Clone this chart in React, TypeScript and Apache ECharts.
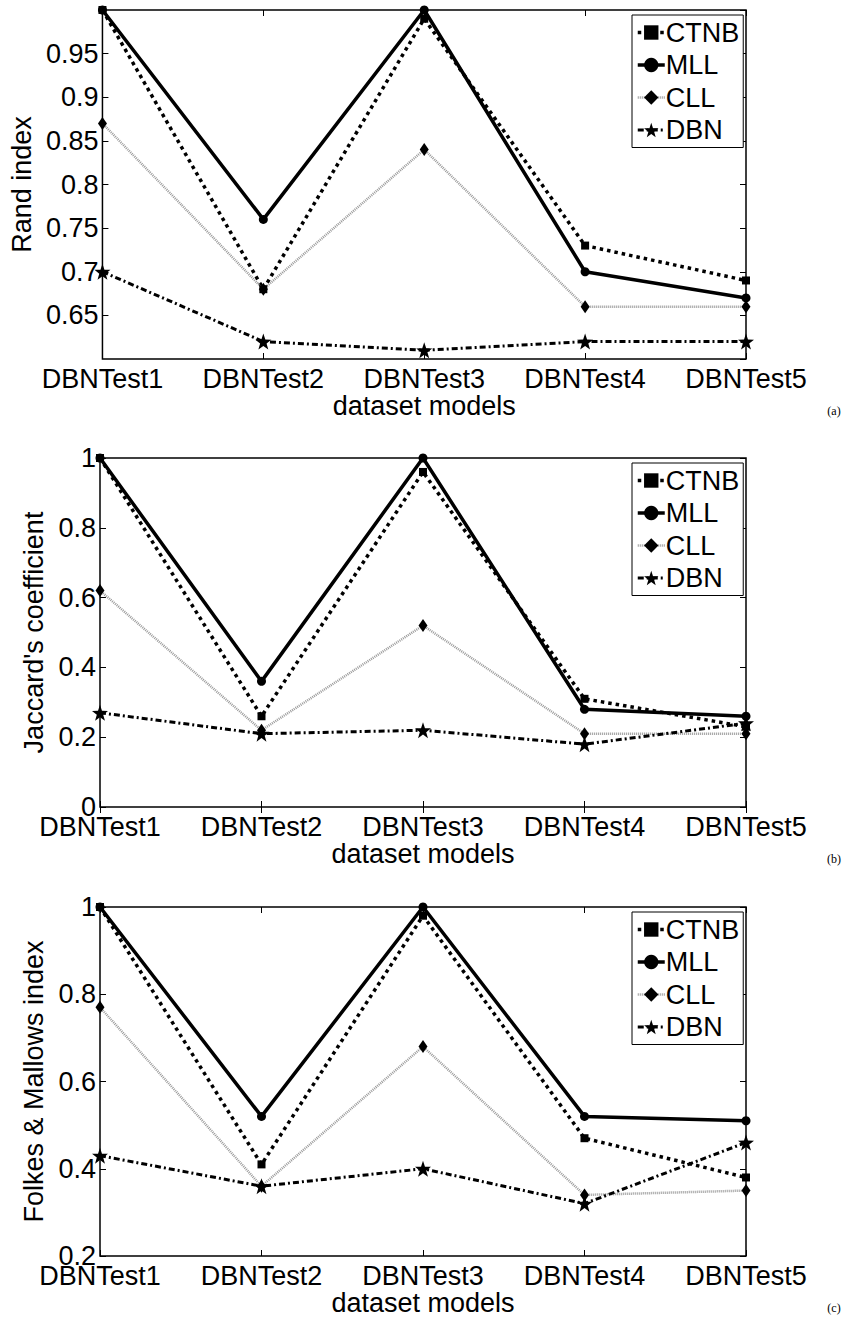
import React, { useEffect, useRef } from "react";
import * as echarts from "echarts";

const categories = ["DBNTest1", "DBNTest2", "DBNTest3", "DBNTest4", "DBNTest5"];
const seriesNames = ["CTNB", "MLL", "CLL", "DBN"];

const randCTNB = [1.0, 0.68, 0.99, 0.73, 0.69];
const randMLL = [1.0, 0.76, 1.0, 0.7, 0.67];
const randCLL = [0.87, 0.68, 0.84, 0.66, 0.66];
const randDBN = [0.7, 0.62, 0.61, 0.62, 0.62];

const jacCTNB = [1.0, 0.26, 0.96, 0.31, 0.23];
const jacMLL = [1.0, 0.36, 1.0, 0.28, 0.26];
const jacCLL = [0.62, 0.22, 0.52, 0.21, 0.21];
const jacDBN = [0.27, 0.21, 0.22, 0.18, 0.24];

const fmCTNB = [1.0, 0.41, 0.98, 0.47, 0.38];
const fmMLL = [1.0, 0.52, 1.0, 0.52, 0.51];
const fmCLL = [0.77, 0.36, 0.68, 0.34, 0.35];
const fmDBN = [0.43, 0.36, 0.4, 0.32, 0.46];

const panelData = [
  [randCTNB, randMLL, randCLL, randDBN],
  [jacCTNB, jacMLL, jacCLL, jacDBN],
  [fmCTNB, fmMLL, fmCLL, fmDBN],
];
const yTitles = ["Rand index", "Jaccard's coefficient", "Folkes & Mallows index"];
const xTitle = "dataset models";
const panelLabels = ["(a)", "(b)", "(c)"];
const yMin = [0.6, 0, 0.2];
const yMax = [1.0, 1.0, 1.0];
const yStep = [0.05, 0.2, 0.2];

const STAR =
  "path://M0,-10L2.35,-3.24L9.51,-3.09L3.8,1.24L5.88,8.09L0,4L-5.88,8.09L-3.8,1.24L-9.51,-3.09L-2.35,-3.24Z";

const FONT = "Liberation Sans, Arial, Helvetica, sans-serif";
const FS = 27;

const styles: Record<string, any> = {
  CTNB: { symbol: "rect", symbolSize: 8, lineStyle: { color: "#000", width: 3.5, type: [3.5, 4] } },
  MLL: { symbol: "circle", symbolSize: 9, lineStyle: { color: "#000", width: 3.5, type: "solid" } },
  CLL: { symbol: "diamond", symbolSize: [9, 13], lineStyle: { color: "#999", width: 2.5, type: [1, 1] } },
  DBN: { symbol: STAR, symbolSize: 16, lineStyle: { color: "#000", width: 3, type: [6, 3, 2, 3] } },
};

const TOPS = [10, 458, 907];
const PH = 349;
const LEFT = 100;
const RIGHT = 101;
const NAMEGAP = [59, 40, 40];

export default function App() {
  const ref = useRef<HTMLDivElement>(null);
  useEffect(() => {
    document.body.style.margin = "0";
    const chart = echarts.init(ref.current!, null, { renderer: "svg" });
    const grid: any[] = [];
    const xAxis: any[] = [];
    const yAxis: any[] = [];
    const series: any[] = [];
    const legend: any[] = [];
    const graphic: any[] = [];
    for (let p = 0; p < 3; p++) {
      grid.push({
        left: LEFT,
        right: RIGHT,
        top: TOPS[p],
        height: PH,
        show: true,
        borderColor: "#000",
        borderWidth: 1.5,
        backgroundColor: "#fff",
      });
      xAxis.push({
        type: "category",
        gridIndex: p,
        data: categories,
        boundaryGap: false,
        axisLine: { show: false },
        axisTick: { show: true, inside: true, length: 6, lineStyle: { color: "#000", width: 1 } },
        axisLabel: { color: "#000", fontFamily: FONT, fontSize: FS, margin: 6 },
        splitLine: { show: false },
        name: xTitle,
        nameLocation: "middle",
        nameGap: 33,
        nameTextStyle: { color: "#000", fontFamily: FONT, fontSize: FS },
      });
      xAxis.push({
        type: "category",
        gridIndex: p,
        position: "top",
        data: categories,
        boundaryGap: false,
        axisLine: { show: false },
        axisTick: { show: true, inside: true, length: 6, lineStyle: { color: "#000", width: 1 } },
        axisLabel: { show: false },
        splitLine: { show: false },
      });
      yAxis.push({
        type: "value",
        gridIndex: p,
        min: yMin[p],
        max: yMax[p],
        interval: yStep[p],
        axisLine: { show: false },
        axisTick: { show: true, inside: true, length: 6, lineStyle: { color: "#000", width: 1 } },
        axisLabel: {
          color: "#000",
          fontFamily: FONT,
          fontSize: FS,
          margin: 4,
          showMinLabel: p !== 0,
          showMaxLabel: p !== 0,
        },
        splitLine: { show: false },
        name: yTitles[p],
        nameLocation: "middle",
        nameGap: NAMEGAP[p],
        nameTextStyle: { color: "#000", fontFamily: FONT, fontSize: FS },
      });
      yAxis.push({
        type: "value",
        gridIndex: p,
        position: "right",
        min: yMin[p],
        max: yMax[p],
        interval: yStep[p],
        axisLine: { show: false },
        axisTick: { show: true, inside: true, length: 6, lineStyle: { color: "#000", width: 1 } },
        axisLabel: { show: false },
        splitLine: { show: false },
      });
      seriesNames.forEach((name, i) => {
        const st = styles[name];
        series.push({
          type: "line",
          name,
          xAxisIndex: p * 2,
          yAxisIndex: p * 2,
          data: panelData[p][i],
          symbol: st.symbol,
          symbolSize: st.symbolSize,
          showAllSymbol: true,
          clip: false,
          itemStyle: { color: "#000" },
          lineStyle: st.lineStyle,
          emphasis: { disabled: true },
        });
      });
      legend.push({
        data: seriesNames.map((n) => ({
          name: n,
          lineStyle: { width: styles[n].lineStyle.width, type: styles[n].lineStyle.type, color: styles[n].lineStyle.color },
        })),
        orient: "vertical",
        align: "left",
        left: 632,
        top: TOPS[p] + 5,
        padding: [4, 4, 4, 4],
        itemWidth: 27,
        itemHeight: 18,
        itemGap: 5.5,
        borderColor: "#000",
        borderWidth: 1,
        backgroundColor: "#fff",
        textStyle: { color: "#000", fontFamily: FONT, fontSize: FS, padding: [0, 0, 0, -4] },
        selectedMode: false,
      });
      graphic.push({
        type: "text",
        x: 834,
        y: TOPS[p] + PH + 52,
        style: {
          text: panelLabels[p],
          fontFamily: "Liberation Serif, Times New Roman, serif",
          fontSize: 12,
          fill: "#000",
          align: "center",
          verticalAlign: "middle",
        },
      });
    }
    chart.setOption({
      animation: false,
      backgroundColor: "#fff",
      grid,
      xAxis,
      yAxis,
      series,
      legend,
      graphic,
    });
    return () => chart.dispose();
  }, []);
  return <div ref={ref} style={{ width: 847, height: 1324 }} />;
}
